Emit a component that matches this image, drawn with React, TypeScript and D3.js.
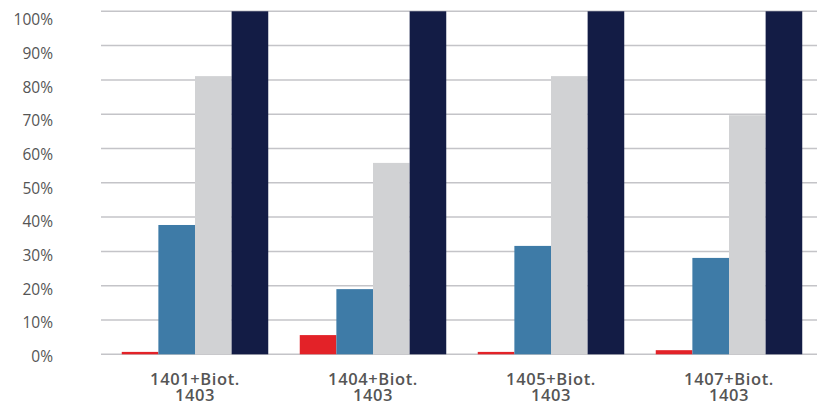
import React from "react";
import * as d3 from "d3";

const categories = ["1401+Biot.|1403", "1404+Biot.|1403", "1405+Biot.|1403", "1407+Biot.|1403"];
const seriesNames = ["s1", "s2", "s3", "s4"];
const s1 = [0.7, 5.6, 0.7, 1.2];
const s2 = [37.7, 19.0, 31.6, 28.1];
const s3 = [81.1, 55.8, 81.1, 69.7];
const s4 = [100, 100, 100, 100];
const yTicks = [0, 10, 20, 30, 40, 50, 60, 70, 80, 90, 100];
const colors = ["#e32228", "#3e7ba7", "#d1d2d4", "#131c45"];

export default function App() {
  const W = 820, H = 404;
  const series = [s1, s2, s3, s4];
  const y = d3.scaleLinear().domain([0, 100]).range([354.3, 11.3]);
  const yLabel = d3.scaleLinear().domain([0, 100]).range([356.5, 20]);
  const x0 = d3.scaleBand().domain(categories).range([106, 818]).paddingInner(0.177).paddingOuter(0.0885);
  const x1 = d3.scaleBand().domain(seriesNames).range([0, x0.bandwidth()]);
  const gridL = 101, gridR = 817;
  return (
    <svg width={W} height={H} style={{ position: "absolute", left: 0, top: 0, fontFamily: "'Open Sans', sans-serif" }}>
      <rect width={W} height={H} fill="#fff" />
      {yTicks.map((t) => (
        <g key={t}>
          <line x1={gridL} x2={gridR} y1={y(t)} y2={y(t)} stroke="#c4c4c8" strokeWidth={1.5} />
          <text x={53} y={yLabel(t)} dy="0.35em" textAnchor="end" fontSize={15.5} fill="#555">{t}%</text>
        </g>
      ))}
      {categories.map((c, i) => (
        <g key={c} transform={`translate(${x0(c)},0)`}>
          {series.map((s, j) => (
            <rect key={j} x={x1(seriesNames[j])} y={y(s[i])} width={x1.bandwidth()} height={y(0) - y(s[i])} fill={colors[j]} />
          ))}
          <text x={x0.bandwidth() / 2} y={384.5} textAnchor="middle" fontSize={16.5} fontWeight={600} letterSpacing={0.6} fill="#555">
            {c.split("|")[0]}
          </text>
          <text x={x0.bandwidth() / 2} y={401} textAnchor="middle" fontSize={16.5} fontWeight={600} letterSpacing={0.6} fill="#555">
            {c.split("|")[1]}
          </text>
        </g>
      ))}
    </svg>
  );
}
